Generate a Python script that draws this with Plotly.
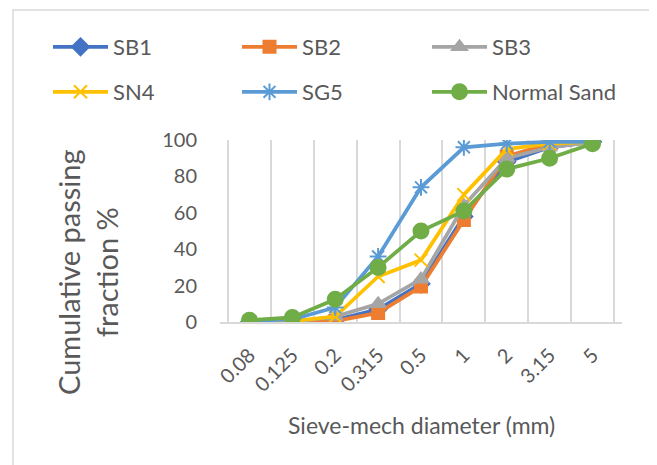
import plotly.graph_objects as go

sieve = ["0.08", "0.125", "0.2", "0.315", "0.5", "1", "2", "3.15", "5"]
sb1 = [0, 0, 1, 7, 21, 58, 88, 96, 99]
sb2 = [0, 0, 0.5, 5, 19.5, 56, 91, 98, 100]
sb3 = [0, 0, 3, 10, 23.5, 64, 90, 96, 99]
sn4 = [0, 0.5, 3, 25, 34, 70, 95, 98, 99]
sg5 = [0.5, 1.5, 8, 36, 74, 96, 98, 99, 99]
normal_sand = [1, 2.5, 12.5, 30, 50, 61, 84, 90, 98]

series = [
    ("SB1", sb1, "#4472C4", "diamond", 13),
    ("SB2", sb2, "#ED7D31", "square", 12),
    ("SB3", sb3, "#A5A5A5", "triangle-up", 13),
    ("SN4", sn4, "#FFC000", "x-thin-open", 13),
    ("SG5", sg5, "#5B9BD5", "asterisk-open", 14),
    ("Normal Sand", normal_sand, "#70AD47", "circle", 15),
]

# page has an 8px body margin: figure is drawn 8px right/down of page origin
OFF = 8
W, H = 657 - OFF, 465 - OFF
PL, PR, PT, PB = 220 - OFF, 622 - OFF, 140 - OFF, 322 - OFF  # plot box in figure px
PW, PH = PR - PL, PB - PT


def px(xp):
    return (xp - OFF - PL) / PW


def py(yp):
    return (PB - (yp - OFF)) / PH


txt = "#595959"
ITEMW = 55
fig = go.Figure()
legend_layout = {}
text_x = [113, 302, 492]
row_y = [47, 92]
for i, (name, vals, col, sym, sz) in enumerate(series):
    lg = "legend" if i == 0 else f"legend{i + 1}"
    fig.add_trace(go.Scatter(
        x=sieve, y=vals, name=name, mode="lines+markers", legend=lg,
        line=dict(color=col, width=3.75),
        marker=dict(symbol=sym, size=sz, color=col,
                    line=dict(color=col, width=2)),
    ))
    lx, ly = text_x[i % 3], row_y[i // 3]
    legend_layout[lg] = dict(x=px(lx - ITEMW - 10), y=py(ly), xanchor="left",
                             yanchor="middle",
                             font=dict(size=22, color=txt, family="Lato"),
                             itemwidth=ITEMW, bgcolor="rgba(0,0,0,0)")

fig.update_layout(
    width=W, height=H,
    margin=dict(l=PL, r=W - PR, t=PT, b=H - PB),
    paper_bgcolor="white", plot_bgcolor="white",
    font=dict(family="Lato", color=txt, size=18),
    showlegend=True,
    xaxis=dict(type="category", tickson="boundaries", showgrid=True,
               gridcolor="#D9D9D9", gridwidth=1.5, showline=True,
               linecolor="#D9D9D9", linewidth=1.5, ticks="",
               tickangle=-45, tickfont=dict(size=20, color=txt),
               ticklabelstandoff=12, automargin=False, zeroline=False),
    yaxis=dict(range=[0, 100], dtick=20, showgrid=False, zeroline=False,
               showline=False, ticks="", tickfont=dict(size=20, color=txt),
               ticklabelstandoff=22, automargin=False),
    annotations=[
        dict(text="Cumulative passing<br>fraction %", xref="paper", yref="paper",
             x=px(87), y=py(272), xanchor="center", yanchor="middle",
             showarrow=False, textangle=-90, font=dict(size=29, color=txt)),
        dict(text="Sieve-mech diameter (mm)", xref="paper", yref="paper",
             x=px(421), y=py(425), xanchor="center", yanchor="middle",
             showarrow=False, font=dict(size=23, color=txt)),
    ],
    shapes=[dict(type="rect", xref="paper", yref="paper",
                 x0=px(13), x1=px(651), y0=py(480), y1=py(10),
                 line=dict(color="#D9D9D9", width=1.5), layer="below")],
    **legend_layout,
)

fig.write_html("out.html")
